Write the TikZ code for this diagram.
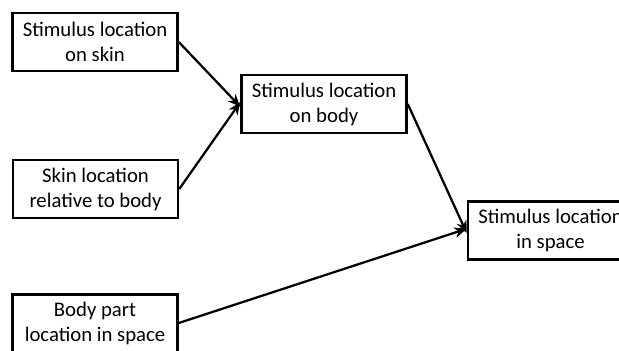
\documentclass[tikz,border=0pt]{standalone}
\usepackage{fontspec}
\setmainfont{Carlito}
\usepackage{tikz}
\usetikzlibrary{arrows.meta, positioning}

\tikzset{
  locbox/.style={draw, line width=0.1cm, minimum width=6.6cm, minimum height=2.3cm,
    align=center, inner sep=0pt, font=\fontsize{23.6}{28.4}\selectfont},
  locarrow/.style={-{Stealth[length=0.5cm,width=0.42cm]}, line width=0.09cm}
}

\begin{document}
\begin{tikzpicture}[x=0.04cm, y=-0.04cm]
				\useasboundingbox (0,0) rectangle (619,350);
				\clip (0,0) rectangle (619,350);
				% input boxes on the left
				\node[locbox] (onskin) at (95,42) {Stimulus location\\on skin};
				\node[locbox] (relbody) at (95.5,189) {Skin location\\relative to body};
				\node[locbox] (bodypart) at (95,323) {Body part\\location in space};
				% combined estimates
				\node[locbox] (onbody) at (324,104) {Stimulus location\\on body};
				\node[locbox] (inspace) at (550.5,230.5) {Stimulus location\\in space};
				\draw[locarrow] (onskin.east) -- ([yshift=-3]onbody.west);
				\draw[locarrow] (relbody.east) -- ([yshift=2]onbody.west);
				\draw[locarrow] (onbody.east) -- ([yshift=-3]inspace.west);
				\draw[locarrow] (bodypart.east) -- ([yshift=2]inspace.west);
			\end{tikzpicture}
\end{document}
